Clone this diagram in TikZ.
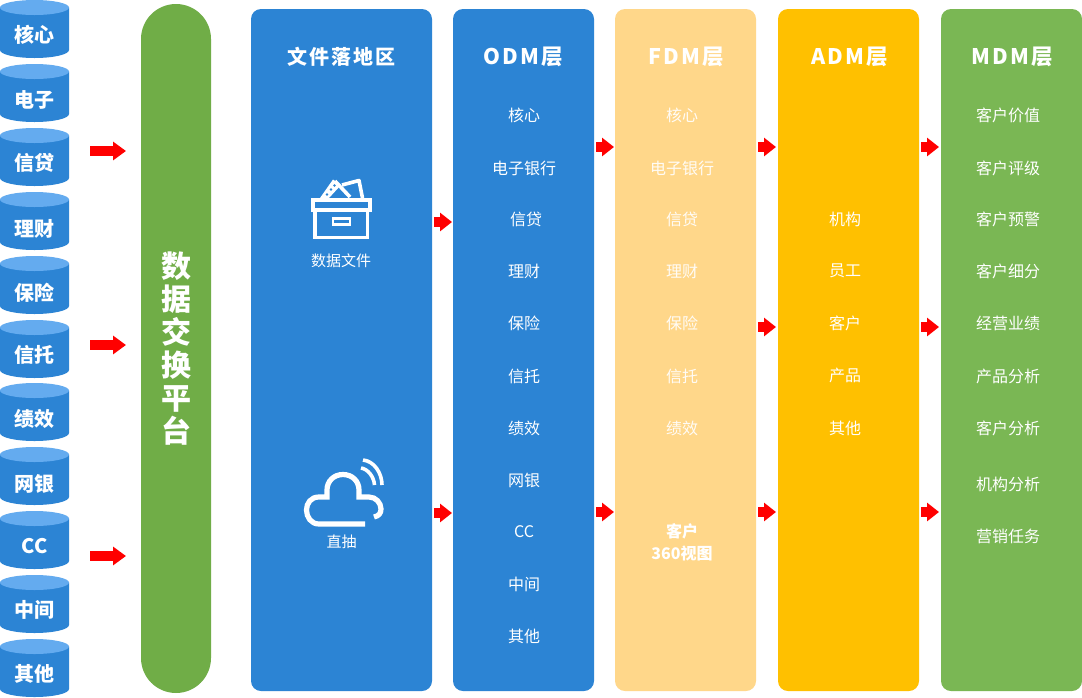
\documentclass[tikz,border=0pt]{standalone}
\usepackage{fontspec}
\usetikzlibrary{arrows.meta}
\setmainfont{Noto Sans CJK SC}
\newfontfamily\spaced[LetterSpace=10]{Noto Sans CJK SC}
\definecolor{blueA}{HTML}{2C84D4}
\definecolor{blueTop}{HTML}{64ABEF}
\definecolor{greenA}{HTML}{70AD47}
\definecolor{greenB}{HTML}{7AB754}
\definecolor{orangeA}{HTML}{FFD78A}
\definecolor{yellowA}{HTML}{FFC000}
\definecolor{arrowRed}{HTML}{FF0000}
\tikzset{
  x=1pt,y=-1pt,
  column/.style={rounded corners=10pt,draw=none},
  cyltext/.style={text=white,font=\fontsize{20}{22}\selectfont\bfseries,inner sep=0pt},
  item/.style={text=white,font=\fontsize{16}{18}\selectfont,inner sep=0pt},
  itemlight/.style={item,text=white!92!orangeA},
  head/.style={text=white,font=\fontsize{21.5}{24}\selectfont\bfseries\spaced,inner sep=0pt},
  caption/.style={text=white,font=\fontsize{15}{17}\selectfont,inner sep=0pt},
  bigflow/.style={draw=arrowRed,line width=9.5pt,-{Triangle[length=13pt,width=18pt,fill=arrowRed]},shorten >=0pt},
  smallflow/.style={draw=arrowRed,line width=10.5pt,-{Triangle[length=12pt,width=18pt,fill=arrowRed]}},
  icon/.style={draw=white,line width=3.6pt,fill=none},
  iconthin/.style={draw=white,line width=5.2pt,fill=none},
}
\newcommand{\cyl}[4]{%
  \fill[blueA] (0,#1+7.5) -- (0,#1+50) .. controls (0,#1+54.5) and (15.5,#1+58) .. (34.5,#1+58) .. controls (53.5,#1+58) and (69,#1+54.5) .. (69,#1+50) -- (69,#1+7.5) -- cycle;
  \fill[blueTop] (34.5,#1+7.5) ellipse[x radius=34.5,y radius=7.5];
  \node[cyltext] (#3) at (34.5,#4) {#2};
}
\begin{document}
\begin{tikzpicture}
\useasboundingbox (0,0) rectangle (1082,697);
\fill[white] (0,0) rectangle (1082,697);
% source cylinders
\cyl{0}{核心}{s1}{34.5}
\cyl{64}{电子}{s2}{100}
\cyl{128}{信贷}{s3}{162.5}
\cyl{192}{理财}{s4}{229}
\cyl{256}{保险}{s5}{292.5}
\cyl{320}{信托}{s6}{354.5}
\cyl{383}{绩效}{s7}{418.5}
\cyl{447}{网银}{s8}{483.5}
\cyl{511}{CC}{s9}{546}
\cyl{575}{中间}{s10}{610}
\cyl{639}{其他}{s11}{674}
% platform
\fill[greenA,rounded corners=35pt] (141,4) rectangle (211,693);
\node[text=white,font=\fontsize{30}{33}\selectfont\bfseries,align=center,inner sep=0pt] (platform) at (176,349) {数\\据\\交\\换\\平\\台};
% columns
\fill[column,blueA] (251,9) rectangle (432,691);
\fill[column,blueA] (453,9) rectangle (594,691);
\fill[column,orangeA] (615,9) rectangle (756,691);
\fill[column,yellowA] (778,9) rectangle (919,691);
\fill[column,greenB] (941,9) rectangle (1082,691);
% headers
\node[text=white,font=\fontsize{20}{22}\selectfont\bfseries\spaced,inner sep=0pt] (h0) at (341.5,56.5) {文件落地区};
\node[head] (h1) at (523.5,56.5) {ODM层};
\node[head] (h2) at (686,56.5) {FDM层};
\node[head] (h3) at (849.5,56.5) {ADM层};
\node[head] (h4) at (1012.5,56.5) {MDM层};
% ODM
\foreach \t/\y/\x/\n in {核心/115/524/a1,电子银行/168/524/a2,信贷/219/526/a3,理财/271/524/a4,保险/323/524/a5,信托/376/524/a6,绩效/428/524/a7,网银/480/524/a8,CC/532/524/a9,中间/584/524/a10,其他/636/524/a11}
  \node[item] (\n) at (\x,\y) {\t};
% FDM
\foreach \t/\y/\n in {核心/115/b1,电子银行/168/b2,信贷/219/b3,理财/271/b4,保险/323/b5,信托/376/b6,绩效/428/b7}
  \node[itemlight] (\n) at (682,\y) {\t};
\node[text=white,font=\fontsize{16}{22}\selectfont\bfseries,align=center,inner sep=0pt] (b8) at (682,542.5) {客户\\360视图};
% ADM
\foreach \t/\y/\n in {机构/219/c1,员工/271/c2,客户/323/c3,产品/375/c4,其他/428/c5}
  \node[item] (\n) at (845,\y) {\t};
% MDM
\foreach \t/\y/\n in {客户价值/115/d1,客户评级/168/d2,客户预警/219/d3,客户细分/271/d4,经营业绩/323/d5,产品分析/376/d6,客户分析/428/d7,机构分析/484/d8,营销任务/536/d9}
  \node[item] (\n) at (1008,\y) {\t};
% captions
\node[caption] (cap1) at (341,260.5) {数据文件};
\node[caption] (cap2) at (341.5,541.5) {直抽};
% archive box icon
\draw[icon,line join=miter] (312.8,200) rectangle (370.2,210);
\draw[icon] (315,211) -- (315,237.5) -- (367.5,237.5) -- (367.5,211);
\draw[draw=white,line width=2.4pt] (333,218.5) rectangle (350,224.5);
\fill[white] (320,198) -- (333,179.5) -- (341,185) -- (329,198) -- cycle;
\draw[icon,line join=round] (335,181) -- (350,197);
\draw[icon,line join=round] (342,185) -- (359,180.5) -- (362.5,198);
\foreach \p in {(327,194.5),(331,189.5),(334.5,185.5)}
  \fill[blueA] \p circle[radius=1.4];
% cloud icon
\draw[iconthin,line cap=butt] (365,524) -- (319,524) .. controls (311,524) and (306.5,517) .. (306.5,510) .. controls (306.5,503) and (311,497) .. (319,497) -- (327,497) -- (327,490) .. controls (327,481) and (334,474.5) .. (343,474.5) .. controls (352,474.5) and (359,481) .. (359,490) -- (359,497) -- (369,497) .. controls (376,497) and (381,503) .. (381,509) .. controls (381,513) and (379,516) .. (374,517);
\draw[draw=white,line width=3.6pt] (363,460) .. controls (374,461) and (382,473) .. (382,485);
\draw[draw=white,line width=3.6pt] (361,468) .. controls (368,469) and (374,477) .. (374.5,485);
% flow arrows
\foreach \y/\n in {151/1,345/2,556/3}{
  \coordinate (bs\n) at (90,\y); \coordinate (be\n) at (126,\y);
  \draw[bigflow] (bs\n) -- (be\n);
}
\foreach \x/\y/\n in {434/222/e1,434/513/e2,596/147/e3,596/512/e4,758/147/e5,758/327/e6,758/512/e7,921/147/e8,921/327/e9,921/512/e10}{
  \coordinate (\n s) at (\x,\y); \coordinate (\n t) at (\x+18,\y);
  \draw[smallflow] (\n s) -- (\n t);
}
\end{tikzpicture}
\end{document}
